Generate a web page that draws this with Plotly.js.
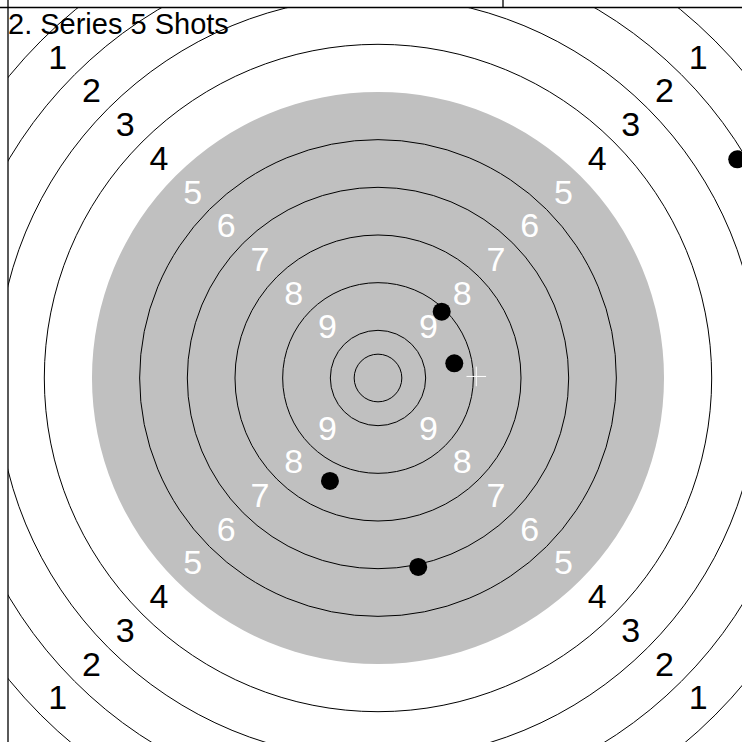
<!DOCTYPE html>
<html>
<head>
<meta charset="utf-8">
<script src="https://cdn.plot.ly/plotly-3.0.1.min.js"></script>
<style>
html,body{margin:0;padding:0;overflow:hidden;background:#fff;}
#chart{width:742px;height:742px;}
</style>
</head>
<body>
<div id="chart"></div>
<script>
// ---- data (mm, target centre = 0,0) ----
const titleText = "2. Series 5 Shots";
const shotX = [33.4, 40.0, -25.2, 21.1, 188.4];
const shotY = [34.8, 7.7, -54.0, -99.1, 114.7];
const ringNumbers = [1, 2, 3, 4, 5, 6, 7, 8, 9];
const ringLineRadii = [12.5, 25, 50, 75, 100, 125, 175, 200, 225, 250];
const blackRadius = 150;
const ringWidth = 25;

// ---- layout geometry ----
const W = 742, H = 742, M = 8;
const pxPerMm = 47.67 / 25;
const cx = 378, cy = 378;
const xRange = [(M - cx) / pxPerMm, (W - cx) / pxPerMm];
const yRange = [-(H - cy) / pxPerMm, (cy - M) / pxPerMm];
const plotW = W - M, plotH = H - M;
const labelDrop = 2.5 / pxPerMm;

const shapes = [];
shapes.push({type:'circle', xref:'x', yref:'y', layer:'below',
  x0:-blackRadius, x1:blackRadius, y0:-blackRadius, y1:blackRadius,
  fillcolor:'#c0c0c0', line:{width:0}});
ringLineRadii.forEach(r => shapes.push({type:'circle', xref:'x', yref:'y', layer:'below',
  x0:-r, x1:r, y0:-r, y1:r, line:{color:'#000', width:1}}));

// frame lines (paper coords)
const px2paperX = p => (p - M) / plotW;
const px2paperY = p => 1 - (p - M) / plotH;
shapes.push({type:'line', xref:'paper', yref:'paper', x0:px2paperX(0), x1:px2paperX(W), y0:px2paperY(7.5), y1:px2paperY(7.5), line:{color:'#000', width:1.3}});
shapes.push({type:'line', xref:'paper', yref:'paper', x0:px2paperX(8), x1:px2paperX(8), y0:px2paperY(0), y1:px2paperY(H), line:{color:'#000', width:1.3}});
shapes.push({type:'line', xref:'paper', yref:'paper', x0:px2paperX(503), x1:px2paperX(503), y0:px2paperY(0), y1:px2paperY(7.5), line:{color:'#000', width:1.3}});

// ring labels on the diagonals
const lx = [], ly = [], lt = [], lc = [];
ringNumbers.forEach(n => {
  const r = (10 - n) * ringWidth + ringWidth / 2;
  const d = r / Math.SQRT2;
  [[-1,1],[1,1],[-1,-1],[1,-1]].forEach(([sx, sy]) => {
    lx.push(sx * d); ly.push(sy * d - labelDrop); lt.push(String(n));
    lc.push(n >= 5 ? '#ffffff' : '#000000');
  });
});

const meanX = shotX.reduce((a,b)=>a+b,0) / shotX.length;
const meanY = shotY.reduce((a,b)=>a+b,0) / shotY.length;

const traces = [
  {type:'scatter', mode:'text', x:lx, y:ly, text:lt, textposition:'middle center',
   textfont:{family:'Liberation Sans, Arial, sans-serif', size:34, color:lc}, hoverinfo:'skip'},
  {type:'scatter', mode:'markers', x:shotX, y:shotY,
   marker:{color:'#000', size:18, line:{width:0}}},
  {type:'scatter', mode:'markers', x:[meanX], y:[meanY],
   marker:{symbol:'cross-thin', size:14, line:{color:'#ffffff', width:1}}}
];

const layout = {
  width: W, height: H,
  margin: {l:M, t:M, r:0, b:0, pad:0},
  paper_bgcolor:'#fff', plot_bgcolor:'#fff',
  showlegend:false,
  xaxis:{range:xRange, visible:false, fixedrange:true},
  yaxis:{range:yRange, visible:false, fixedrange:true},
  title:{text:titleText, x:0, xref:'paper', xanchor:'left', y:1, yref:'paper', yanchor:'top',
    font:{family:'Liberation Sans, Arial, sans-serif', size:29, color:'#000'}, pad:{t:6,l:0,r:0,b:0}},
  shapes: shapes
};

Plotly.newPlot('chart', traces, layout, {displayModeBar:false, staticPlot:true});
</script>
</body>
</html>
